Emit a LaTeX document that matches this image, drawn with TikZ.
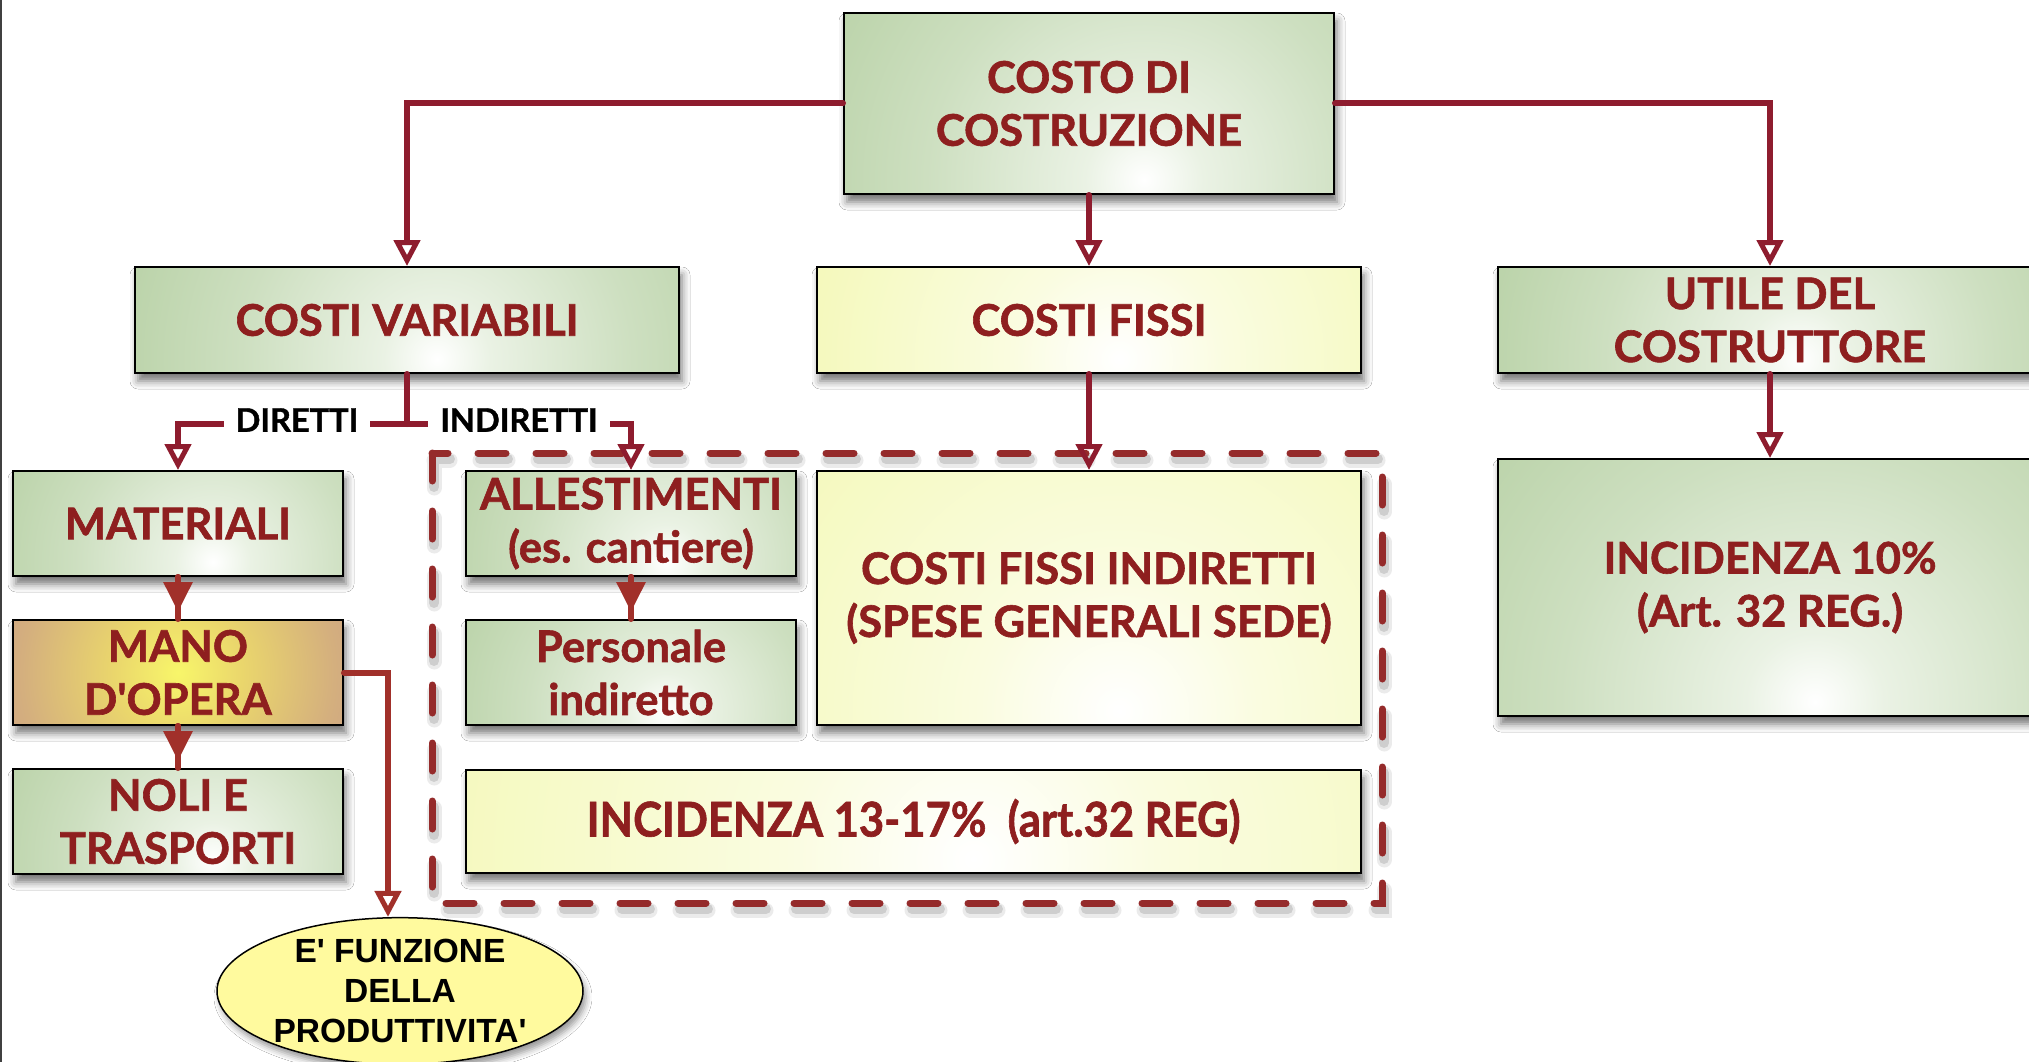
\documentclass[tikz,border=0pt]{standalone}
\usepackage{fontspec}
\setmainfont{Lato}[Ligatures=TeXOff]
\newfontfamily\ellsans{Liberation Sans}[Ligatures=TeXOff]
\usetikzlibrary{arrows.meta,shapes.geometric,shadows.blur,calc}

\definecolor{crim}{HTML}{8E1C2E}
\definecolor{brn}{HTML}{A1302A}
\definecolor{dashc}{HTML}{952B2B}
\definecolor{txt}{HTML}{8E1F1F}
\definecolor{gA}{HTML}{EAF2E4}
\definecolor{gB}{HTML}{CDDFC0}
\definecolor{gC}{HTML}{B0CC9C}
\definecolor{gD}{HTML}{98BB80}
\definecolor{yA}{HTML}{FAFCE0}
\definecolor{yB}{HTML}{F5F9BE}
\definecolor{yC}{HTML}{EFF59A}
\definecolor{mA}{HTML}{F8F66A}
\definecolor{mB}{HTML}{EAD66C}
\definecolor{mC}{HTML}{D4AF7E}
\definecolor{mD}{HTML}{C08E90}
\definecolor{ellfill}{HTML}{FFFA9E}

% glows: white (or yellow) centre fading to the edge colour
\pgfdeclareradialshading{greenglow}{\pgfpoint{0bp}{0bp}}{color(0bp)=(white); color(3bp)=(gA); color(11bp)=(gB); color(22bp)=(gC); color(33bp)=(gD); color(50bp)=(gD)}
\pgfdeclareradialshading{yellowglow}{\pgfpoint{0bp}{0bp}}{color(0bp)=(white); color(6bp)=(yA); color(17bp)=(yB); color(32bp)=(yC); color(50bp)=(yC)}
\pgfdeclareradialshading{manoglow}{\pgfpoint{0bp}{0bp}}{color(0bp)=(mA); color(7bp)=(mB); color(17bp)=(mC); color(29bp)=(mD); color(50bp)=(mD)}

\newcommand\cardfont{\fontsize{43.5}{53}\selectfont\bfseries\addfontfeatures{FakeBold=1.4}}
\newcommand\lblfont{\fontsize{32.5}{36}\selectfont\bfseries\addfontfeatures{FakeBold=1.2}}
\newcommand\ellfont{\ellsans\fontsize{33.5}{40}\selectfont\bfseries}

\tikzset{
  card/.style={draw=black, line width=2pt, inner sep=0pt, align=center,
    text=txt, font=\cardfont,
    blur shadow={shadow xshift=3pt, shadow yshift=-8pt, shadow blur radius=8pt, shadow opacity=55}},
  green card/.style 2 args={card,
    path picture={\shade[shading=greenglow] ($(path picture bounding box.south)+(#2,-14)$) circle (#1);}},
  yellow card/.style 2 args={card,
    path picture={\shade[shading=yellowglow] ($(path picture bounding box.south)+(#2,-14)$) circle (#1);}},
  mano card/.style={card,
    path picture={\shade[shading=manoglow] (path picture bounding box.center) circle (230);}},
  link/.style={draw=crim, line width=6pt, line cap=round},
  brown link/.style={draw=brn, line width=6pt, line cap=round},
  open tip/.style={-{Triangle[open, length=26pt, width=26pt, line width=5pt]}},
  solid tip/.style={-{Triangle[length=30pt, width=28pt]}, shorten >=7pt},
  lbl/.style={fill=white, text=black, font=\lblfont, inner xsep=12pt, inner ysep=12pt},
  group frame/.style={draw=dashc, line width=7pt, line cap=round, dash pattern=on 28pt off 30pt},
}

\begin{document}
\begin{tikzpicture}[x=1pt, y=-1pt]
\useasboundingbox (0,0) rectangle (2029,1062);
\clip (0,0) rectangle (2029,1062);
\fill[white] (0,0) rectangle (2029,1062);
\draw[black!75, line width=2pt] (1,0) -- (1,1062);

% dashed frame around the fixed-cost group, with a soft shadow
\draw[group frame, draw=black, opacity=0.08, line width=15pt] (434,460) rectangle (1384,910);
\draw[group frame, draw=black, opacity=0.12, line width=10pt] (434,459) rectangle (1384,909);
\draw[group frame] (432,453) rectangle (1382,903);

% top level
\node[green card={495}{55}, minimum width=490pt, minimum height=181pt] (costo) at (1089,103.5) {COSTO DI\\COSTRUZIONE};

% second level
\node[green card={445}{30}, minimum width=544pt, minimum height=106pt] (var) at (407,320) {COSTI VARIABILI};
\node[yellow card={445}{30}, minimum width=544pt, minimum height=106pt] (fissi) at (1089,320) {COSTI FISSI};
\node[green card={445}{30}, minimum width=544pt, minimum height=106pt] (utile) at (1770,320) {UTILE DEL\\COSTRUTTORE};

% variable costs
\node[green card={315}{35}, minimum width=330pt, minimum height=105pt] (mat) at (178,523.5) {MATERIALI};
\node[mano card, minimum width=330pt, minimum height=105pt] (mano) at (178,672.5) {MANO\\D'OPERA};
\node[green card={315}{35}, minimum width=330pt, minimum height=105pt] (noli) at (178,821.5) {NOLI E\\TRASPORTI};

% indirect / fixed costs
\node[green card={315}{35}, minimum width=330pt, minimum height=105pt] (alle) at (631,523.5) {ALLESTIMENTI\\(es. cantiere)};
\node[green card={315}{35}, minimum width=330pt, minimum height=105pt] (pers) at (631,672.5) {Personale\\indiretto};
\node[yellow card={580}{30}, minimum width=544pt, minimum height=254pt] (cfi) at (1089,598) {COSTI FISSI INDIRETTI\\(SPESE GENERALI SEDE)};
\node[yellow card={790}{60}, minimum width=895pt, minimum height=103pt] (inc13) at (913.5,821.5) {\scalebox{1}[1.1]{INCIDENZA 13-17\%\ \ (art.32 REG)}};

% builder's profit
\node[green card={580}{45}, minimum width=544pt, minimum height=257pt] (inc10) at (1770,587.5) {INCIDENZA 10\%\\(Art. 32 REG.)};

% productivity note
\node[ellipse, draw=black, line width=1.5pt, fill=ellfill, minimum width=366pt, minimum height=144pt,
  inner sep=0pt, align=center, font=\ellfont,
  blur shadow={shadow xshift=3pt, shadow yshift=-6pt, shadow blur radius=6pt, shadow opacity=40}]
  (prod) at (400,991) {E' FUNZIONE\\DELLA\\PRODUTTIVITA'};

% main connectors
\draw[link, open tip] (costo.west) -| (var.north);
\draw[link, open tip] (costo.south) -- (fissi.north);
\draw[link, open tip] (costo.east) -| (utile.north);
\draw[link] (var.south) -- ++(0,50) coordinate (fork);
\draw[link, open tip] (fork) -| (mat.north);
\draw[link, open tip] (fork) -| (alle.north);
\draw[link, open tip] (fissi.south) -- (cfi.north);
\draw[link, open tip] (utile.south) -- (inc10.north);

% chains inside the columns
\draw[brown link] (mat.south) -- (mano.north);
\draw[brown link, solid tip] (mat.south) -- (mano.north);
\draw[brown link] (mano.south) -- (noli.north);
\draw[brown link, solid tip] (mano.south) -- (noli.north);
\draw[brown link] (alle.south) -- (pers.north);
\draw[brown link, solid tip] (alle.south) -- (pers.north);
\draw[brown link, open tip] (mano.east) -- ++(44,0) coordinate (bend) -- (bend |- prod.north);

% branch labels
\node[lbl] (dir) at (297,420) {DIRETTI};
\node[lbl] (indir) at (519,420) {INDIRETTI};
\end{tikzpicture}
\end{document}
